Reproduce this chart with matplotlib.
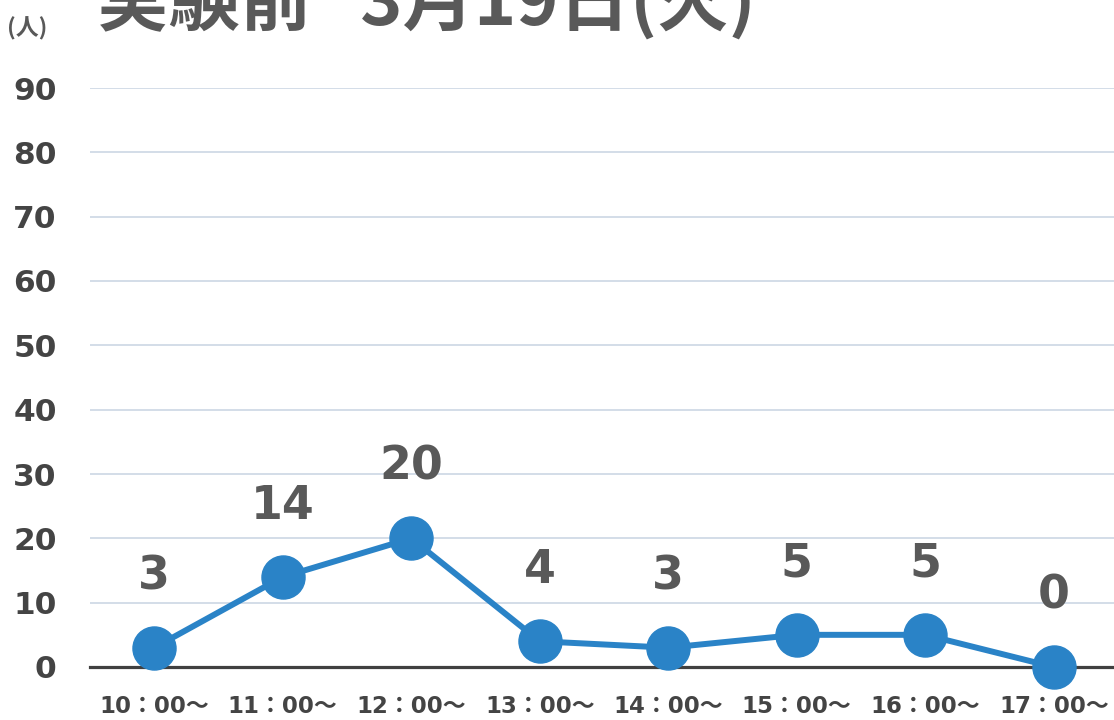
import matplotlib
matplotlib.use("Agg")
import matplotlib.pyplot as plt

plt.rcParams['font.family'] = ['DejaVu Sans', 'Noto Sans CJK JP']

categories = ["10：00～", "11：00～", "12：00～", "13：00～", "14：00～", "15：00～", "16：00～", "17：00～"]
values = [3, 14, 20, 4, 3, 5, 5, 0]
y_ticks = [0, 10, 20, 30, 40, 50, 60, 70, 80, 90]
title = "実験前   3月19日(火)"
unit_label = "(人)"

TEXT = "#595959"
TICK = "#444444"
BLUE = "#2A83C7"

fig = plt.figure(figsize=(11.14, 7.2), dpi=100)
ax = fig.add_axes([90/1114, 1-667/720, 1028/1114, (667-88)/720])

x = list(range(len(categories)))
ax.plot(x, values, color=BLUE, lw=4.3, marker='o', markersize=31, clip_on=False, zorder=4)
for xi, v in zip(x, values):
    ax.annotate(str(v), (xi, v), xytext=(0, 51), textcoords='offset points',
                ha='center', va='center', fontsize=33, fontweight='bold', color=TEXT)

ax.set_xlim(-0.5, len(categories) - 0.5)
ax.set_ylim(0, 90)
ax.set_yticks(y_ticks)
ax.set_yticklabels([str(t) for t in y_ticks])
ax.set_xticks(x)
ax.set_xticklabels(categories)
for s in ax.spines.values():
    s.set_visible(False)
for t in y_ticks[1:]:
    ax.axhline(t, color="#D3DDE8", lw=1.4, zorder=1)
ax.axhline(0, color="#404040", lw=2.3, zorder=2, clip_on=False)
ax.tick_params(axis='both', length=0)
ax.tick_params(axis='y', pad=24, labelsize=22.5, labelcolor=TICK)
ax.tick_params(axis='x', pad=20, labelsize=16.5, labelcolor=TICK)
for lab in ax.get_xticklabels() + ax.get_yticklabels():
    lab.set_fontweight('bold')

fig.text(97/1114, 1-26/720, title, ha='left', va='baseline', fontsize=51.5,
         fontweight='bold', color=TEXT, family=['Noto Sans CJK JP', 'DejaVu Sans'])
fig.text(7/1114, 1-29/720, unit_label, ha='left', va='center', fontsize=16.5,
         fontweight='bold', color=TEXT, family=['Noto Sans CJK JP', 'DejaVu Sans'])

fig.savefig("out.png", dpi=100)
